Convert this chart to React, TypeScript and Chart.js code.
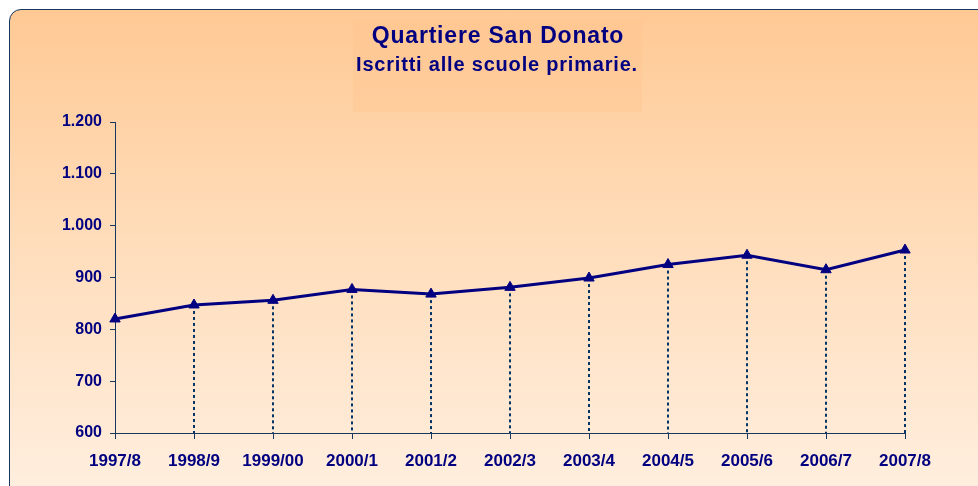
import React, { useEffect, useRef } from "react";
import { Chart, registerables } from "chart.js";

Chart.register(...registerables);

const categories = ["1997/8", "1998/9", "1999/00", "2000/1", "2001/2", "2002/3", "2003/4", "2004/5", "2005/6", "2006/7", "2007/8"];
const iscritti = [820, 847, 856, 877, 868, 881, 899, 925, 943, 915, 953];
const yTicks = [600, 700, 800, 900, 1000, 1100, 1200];
const titleText = "Quartiere San Donato";
const subtitleText = "Iscritti alle scuole primarie.";

const NAVY = "#000080";
const AXIS = "#17375E";
const FONT = "Arial, 'Liberation Sans', sans-serif";

const fmt = (v: number) => {
  const s = String(Math.round(v));
  return s.length > 3 ? s.slice(0, s.length - 3) + "." + s.slice(s.length - 3) : s;
};

const dropLines = {
  id: "dropLines",
  beforeDatasetsDraw(chart: any) {
    const { ctx, chartArea } = chart;
    const meta = chart.getDatasetMeta(0);
    ctx.save();
    ctx.strokeStyle = "#003366";
    ctx.lineWidth = 2;
    ctx.setLineDash([3, 3]);
    meta.data.forEach((pt: any) => {
      if (Math.abs(pt.x - chartArea.left) < 2) return;
      ctx.beginPath();
      ctx.moveTo(Math.round(pt.x), pt.y);
      ctx.lineTo(Math.round(pt.x), chartArea.bottom);
      ctx.stroke();
    });
    ctx.restore();
  },
};

const titles = {
  id: "titles",
  afterDraw(chart: any) {
    const { ctx } = chart;
    ctx.save();
    ctx.fillStyle = NAVY;
    ctx.textAlign = "center";
    ctx.textBaseline = "middle";
    ctx.font = `bold 23px ${FONT}`;
    (ctx as any).letterSpacing = "0.8px";
    ctx.fillText(titleText, 498, 37);
    ctx.font = `bold 20px ${FONT}`;
    (ctx as any).letterSpacing = "0.8px";
    ctx.fillText(subtitleText, 497, 65);
    ctx.restore();
  },
};

export default function App() {
  const ref = useRef<HTMLCanvasElement | null>(null);
  useEffect(() => {
    if (!ref.current) return;
    const chart = new Chart(ref.current, {
      type: "line",
      data: {
        labels: categories,
        datasets: [
          {
            data: iscritti,
            borderColor: NAVY,
            backgroundColor: NAVY,
            borderWidth: 3,
            pointStyle: "triangle",
            pointRadius: 6,
            pointBorderWidth: 1,
            pointBackgroundColor: NAVY,
            pointBorderColor: NAVY,
            tension: 0,
          },
        ],
      },
      options: {
        responsive: false,
        animation: false,
        layout: { padding: { left: 0, right: 73, top: 122, bottom: 0 } },
        plugins: {
          legend: { display: false },
          tooltip: { enabled: false },
          title: { display: false },
        },
        scales: {
          x: {
            type: "category",
            offset: false,
            grid: { drawOnChartArea: false, drawTicks: true, tickLength: 6, color: AXIS, tickColor: AXIS },
            border: { color: AXIS, width: 1 },
            ticks: {
              color: NAVY,
              font: { family: FONT, size: 17, weight: "bold" },
              maxRotation: 0,
              autoSkip: false,
              padding: 12,
            },
            afterFit: (scale: any) => {
              scale.height = 53;
            },
          },
          y: {
            min: 600,
            max: 1200,
            afterBuildTicks: (scale: any) => {
              scale.ticks = yTicks.map((v) => ({ value: v }));
            },
            grid: { drawOnChartArea: false, drawTicks: true, tickLength: 5, color: AXIS, tickColor: AXIS },
            border: { color: AXIS, width: 1 },
            ticks: {
              color: NAVY,
              font: { family: FONT, size: 16, weight: "bold" },
              padding: 8,
              callback: (v: any) => fmt(Number(v)),
            },
            afterFit: (scale: any) => {
              scale.width = 115;
            },
          },
        },
      },
      plugins: [dropLines, titles],
    } as any);
    return () => chart.destroy();
  }, []);

  return (
    <div style={{ position: "fixed", left: 0, top: 0, width: 978, height: 486, overflow: "hidden", background: "#ffffff" }}>
      <div
        style={{
          position: "absolute",
          left: 9,
          top: 9,
          width: 1000,
          height: 520,
          border: "1.5px solid #17375E",
          borderRadius: 12,
          background: "linear-gradient(to bottom, #FFC994 0%, #FFDDBB 45%, #FFF1E4 100%)",
        }}
      />
      <div style={{ position: "absolute", left: 353, top: 20, width: 289, height: 92, background: "rgba(255,196,140,0.35)" }} />
      <canvas ref={ref} width={978} height={486} style={{ position: "absolute", left: 0, top: 0, width: 978, height: 486 }} />
    </div>
  );
}
